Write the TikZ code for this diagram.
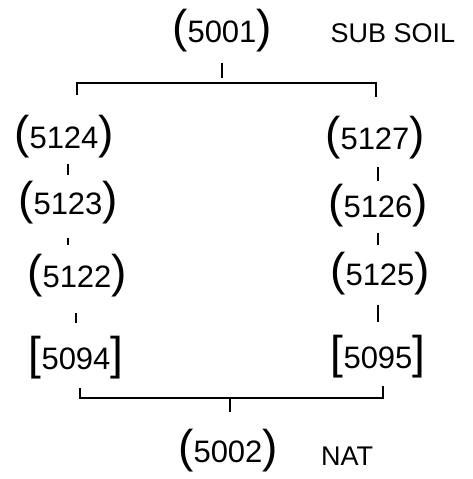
\documentclass[tikz,border=0pt]{standalone}
\usepackage{fontspec}
\setmainfont{Liberation Sans}
\newcommand{\bigpar}{\fontsize{46}{46}\selectfont}
\newcommand{\ctxnum}[1]{{\bigpar(}#1{\bigpar)}}
\newcommand{\ctxsq}[1]{{\bigpar[}#1{\bigpar]}}

\begin{document}
\begin{tikzpicture}[x=1pt,y=-1pt,
  ctx/.style={inner sep=0pt,font=\fontsize{31}{31}\selectfont},
  note/.style={inner sep=0pt,font=\fontsize{27}{27}\selectfont},
  tick/.style={line width=2.2pt},
  bar/.style={line width=1.4pt}]
  \useasboundingbox (0,0) rectangle (472,479);
  % top of the sequence
  \node[ctx] (c5001) at (222,31) {\ctxnum{5001}};
  \node[note] (subsoil) at (393,33) {SUB SOIL};
  \coordinate (topL) at (77,83);
  \coordinate (topR) at (376,83);
  \draw[tick,shorten <=10pt,shorten >=5pt] (c5001.south) -- (c5001.south |- topL);
  \draw[bar] (topL) ++(0,12) -- (topL) -- (topR) -- ++(0,14);
  % left branch
  \node[ctx] (c5124) at (64,137) {\ctxnum{5124}};
  \node[ctx] (c5123) at (68,203) {\ctxnum{5123}};
  \node[ctx] (c5122) at (77,276) {\ctxnum{5122}};
  \node[ctx] (c5094) at (76,358) {\ctxsq{5094}};
  \draw[tick,shorten <=5pt,shorten >=6pt] (c5123.north |- c5124.south) -- (c5123.north);
  \draw[tick,shorten <=13pt,shorten >=9pt] (c5123.south) -- (c5123.south |- c5122.north);
  \draw[tick,shorten <=15pt,shorten >=13pt] (c5094.north |- c5122.south) -- (c5094.north);
  % right branch
  \node[ctx] (c5127) at (375,138) {\ctxnum{5127}};
  \node[ctx] (c5126) at (378,206) {\ctxnum{5126}};
  \node[ctx] (c5125) at (380,274) {\ctxnum{5125}};
  \node[ctx] (c5095) at (378,357) {\ctxsq{5095}};
  \draw[tick,shorten <=7pt,shorten >=3pt] (c5126.north |- c5127.south) -- (c5126.north);
  \draw[tick,shorten <=5pt,shorten >=7pt] (c5126.south) -- (c5126.south |- c5125.north);
  \draw[tick,shorten <=9pt,shorten >=13pt] (c5095.north |- c5125.south) -- (c5095.north);
  % bottom of the sequence
  \coordinate (botL) at (80,398);
  \coordinate (botR) at (383,398);
  \coordinate (botM) at (230,398);
  \draw[bar] (botL) ++(0,-10) -- (botL) -- (botR) -- ++(0,-12);
  \draw[tick,line width=2.6pt] (botM) -- ++(0,14);
  \node[ctx] (c5002) at (228,451) {\ctxnum{5002}};
  \node[note] (nat) at (347,456) {NAT};
\end{tikzpicture}
\end{document}
